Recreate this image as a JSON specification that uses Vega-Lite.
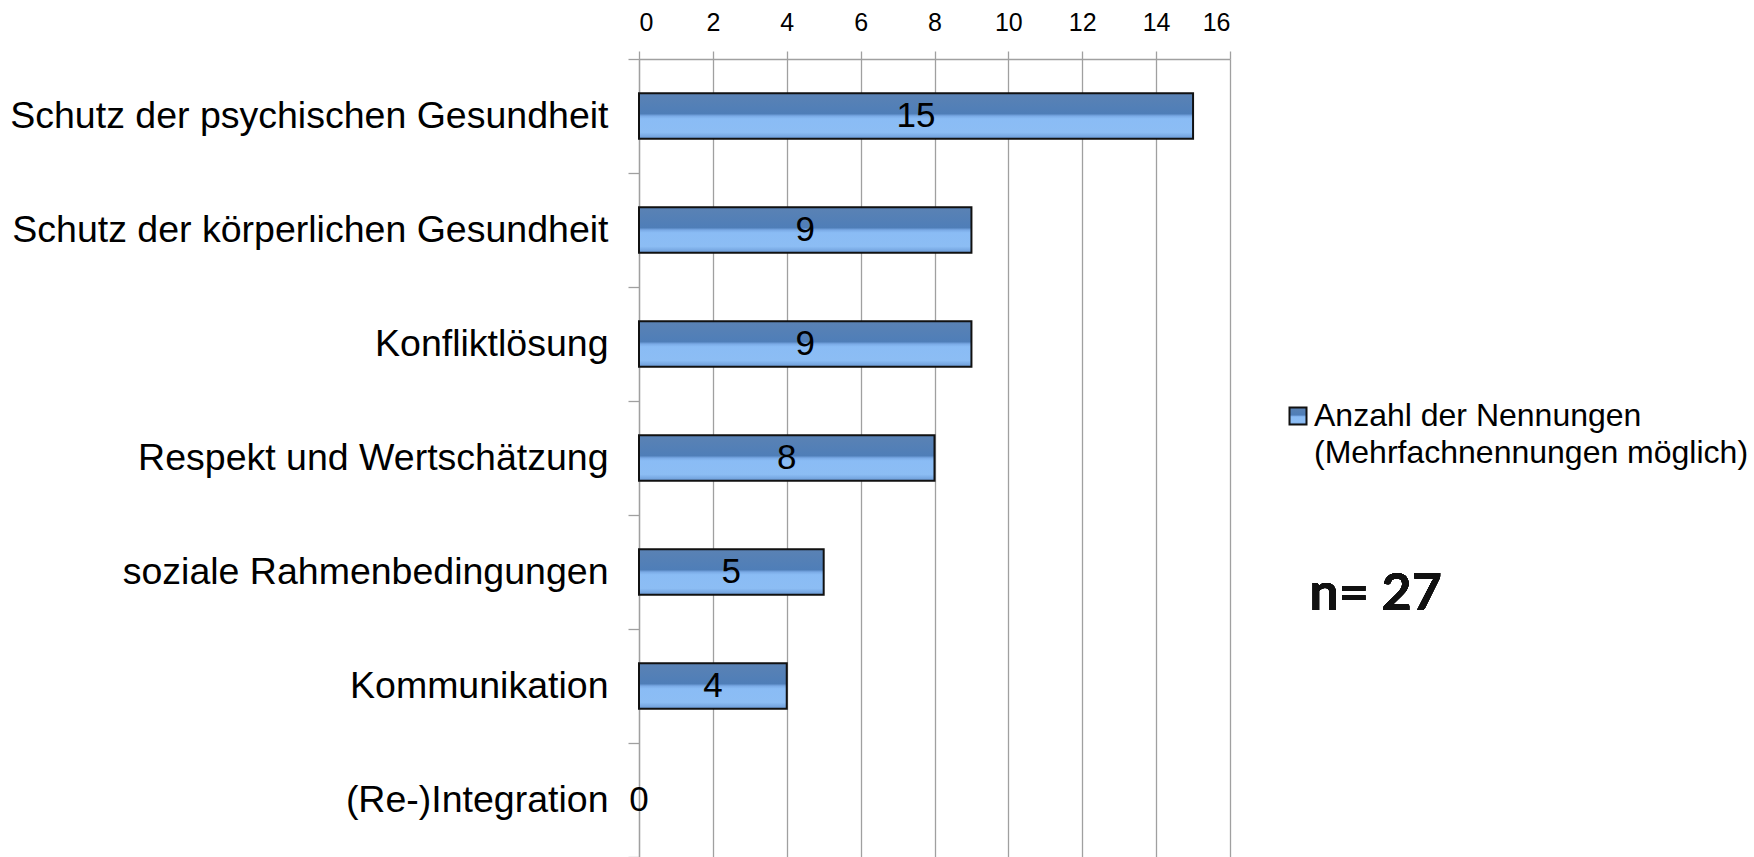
{
  "$schema": "https://vega.github.io/schema/vega-lite/v6.json",
  "autosize": "none",
  "width": 591,
  "height": 798,
  "padding": {"left": 639, "top": 59, "right": 524, "bottom": 0},
  "background": "white",
  "config": {
    "view": {"stroke": null},
    "font": "Liberation Sans",
    "style": {"guide-label": {"lineHeight": 37}}
  },
  "data": {
    "values": [
      {"kategorie": "Schutz der psychischen Gesundheit", "anzahl": 15, "serie": "Anzahl der Nennungen"},
      {"kategorie": "Schutz der körperlichen Gesundheit", "anzahl": 9, "serie": "Anzahl der Nennungen"},
      {"kategorie": "Konfliktlösung", "anzahl": 9, "serie": "Anzahl der Nennungen"},
      {"kategorie": "Respekt und Wertschätzung", "anzahl": 8, "serie": "Anzahl der Nennungen"},
      {"kategorie": "soziale Rahmenbedingungen", "anzahl": 5, "serie": "Anzahl der Nennungen"},
      {"kategorie": "Kommunikation", "anzahl": 4, "serie": "Anzahl der Nennungen"},
      {"kategorie": "(Re-)Integration", "anzahl": 0, "serie": "Anzahl der Nennungen"}
    ]
  },
  "resolve": {"scale": {"x": "independent"}},
  "layer": [
    {
      "mark": {
        "type": "bar",
        "height": {"band": 0.4},
        "fill": {
          "gradient": "linear", "x1": 0, "y1": 0, "x2": 0, "y2": 1,
          "stops": [
            {"offset": 0, "color": "#5a82b4"},
            {"offset": 0.45, "color": "#4f7eb8"},
            {"offset": 0.5, "color": "#7aaae6"},
            {"offset": 0.56, "color": "#8abcf5"},
            {"offset": 0.86, "color": "#8cbdf4"},
            {"offset": 1, "color": "#6a9ad6"}
          ]
        }
      },
      "encoding": {
        "y": {
          "field": "kategorie", "type": "nominal", "sort": null,
          "scale": {"paddingInner": 0, "paddingOuter": 0},
          "axis": {
            "title": null,
            "domainColor": "#a0a0a0", "domainWidth": 1.3,
            "tickBand": "extent", "tickSize": 11, "tickColor": "#a0a0a0", "tickWidth": 1.3,
            "labelFontSize": 37.5, "labelColor": "#000000", "labelPadding": 20, "labelLimit": 0,
            "labelFont": "Liberation Sans"
          }
        },
        "x": {
          "field": "anzahl", "type": "quantitative",
          "scale": {"domain": [0, 16], "nice": false},
          "axis": {
            "orient": "top", "title": null,
            "values": [0, 2, 4, 6, 8, 10, 12, 14, 16],
            "grid": true, "gridColor": "#a0a0a0", "gridWidth": 1.3,
            "domainColor": "#a0a0a0", "domainWidth": 1.3,
            "tickSize": 8, "tickColor": "#a0a0a0", "tickWidth": 1.3,
            "labelFontSize": 25, "labelColor": "#000000", "labelPadding": 16,
            "labelFont": "Liberation Sans"
          }
        },
        "strokeWidth": {"condition": {"test": "datum.anzahl == 0", "value": 0}, "value": 2},
        "stroke": {
          "field": "serie", "type": "nominal",
          "scale": {"range": ["#111111"]},
          "legend": {
            "orient": "none", "legendX": 643, "legendY": 341,
            "title": null,
            "symbolType": "square", "symbolSize": 289, "symbolStrokeWidth": 2,
            "symbolFillColor": "#4f81bd",
            "labelExpr": "['Anzahl der Nennungen', '(Mehrfachnennungen möglich)']",
            "labelFontSize": 32, "labelColor": "#000000", "labelLimit": 0,
            "labelBaseline": "middle", "labelOffset": 0, "labelFont": "Liberation Sans"
          }
        }
      }
    },
    {
      "mark": {"type": "text", "fontSize": 35, "font": "Liberation Sans", "color": "#000000", "align": "center", "baseline": "middle"},
      "encoding": {
        "y": {"field": "kategorie", "type": "nominal", "sort": null},
        "x": {"field": "anzahl", "type": "quantitative", "scale": {"domain": [0, 32], "nice": false}, "axis": null},
        "text": {"field": "anzahl", "type": "quantitative"}
      }
    },
    {
      "mark": {"type": "text", "text": "n= 27", "fontSize": 52, "font": "Lato", "fontWeight": "bold", "color": "#111111", "align": "left", "baseline": "middle", "yOffset": 22},
      "encoding": {
        "x": {"datum": 18.15, "type": "quantitative", "scale": {"domain": [0, 16], "nice": false}, "axis": null},
        "y": {"datum": "soziale Rahmenbedingungen", "type": "nominal"}
      }
    }
  ]
}
